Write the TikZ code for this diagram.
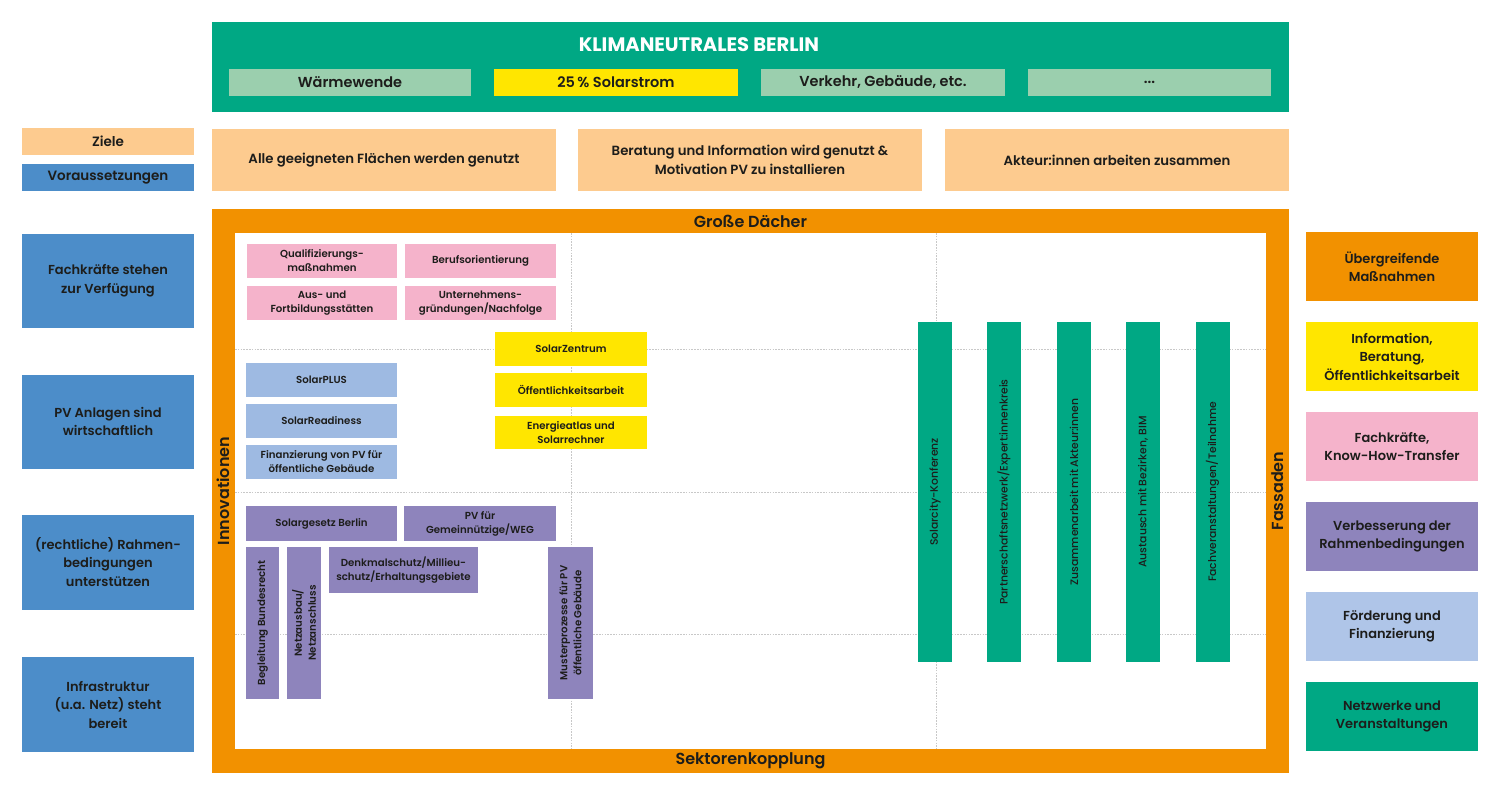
\documentclass[tikz,border=0pt]{standalone}
\usepackage{fontspec}
\setmainfont{Poppins}[UprightFont={* SemiBold},BoldFont={* Bold}]
\newfontfamily\lightfont{Poppins}[UprightFont={* Medium}]
\definecolor{ink}{HTML}{1D1D1B}
\definecolor{kgreen}{HTML}{00A884}
\definecolor{lgreen}{HTML}{9BCFAE}
\definecolor{kyellow}{HTML}{FFE600}
\definecolor{korange}{HTML}{F29100}
\definecolor{peach}{HTML}{FDCB8F}
\definecolor{kblue}{HTML}{4C8DC9}
\definecolor{kpink}{HTML}{F5B3CB}
\definecolor{lblue}{HTML}{9EBAE2}
\definecolor{rblue}{HTML}{AFC5E8}
\definecolor{kpurple}{HTML}{8E84BC}
\definecolor{gridc}{HTML}{C8C8C8}
\newcommand\myfs[2]{\fontsize{#1}{#2}\selectfont}
\begin{document}
\begin{tikzpicture}[x=1pt,y=-1pt,
  box/.style={inner sep=0pt, outer sep=0pt, align=center, text=ink},
  small/.style={box, font=\myfs{10.2}{14}},
  legend/.style={box, minimum width=172, font=\myfs{13}{18.5}},
  vbox/.style={box, fill=kgreen, rotate=90, minimum width=340, minimum height=34, font=\lightfont\myfs{10.8}{12}},
  gridline/.style={draw=gridc, line width=0.8pt, dash pattern=on 1.6pt off 1.2pt},
  frametext/.style={box, font=\myfs{16}{19}}]
\useasboundingbox (0,0) rectangle (1500,796);
\fill[white] (0,0) rectangle (1500,796);

% top
\node[box, fill=kgreen, minimum width=1077, minimum height=90] (klima) at (750.5,67) {};
\node[box, text=white, font=\bfseries\myfs{19.5}{22}] (title) at (699,45) {KLIMANEUTRALES BERLIN};
\node[box, fill=lgreen, minimum width=242, minimum height=27, font=\myfs{14.5}{17}] (w1) at (350,82.5) {Wärmewende};
\node[box, fill=kyellow, minimum width=244, minimum height=27, font=\myfs{14.5}{17}] (w2) at (616,82.5) {25\,\% Solarstrom};
\node[box, fill=lgreen, minimum width=244, minimum height=27, font=\myfs{14.5}{17}] (w3) at (883,82.5) {Verkehr, Gebäude, etc.};
\node[box, fill=lgreen, minimum width=243, minimum height=27, font=\myfs{14.5}{17}] (w4) at (1149.5,82.5) {...};

% Ziele / Voraussetzungen
\node[box, fill=peach, minimum width=172, minimum height=27, font=\myfs{13.5}{16}] (ziele) at (108,141.5) {Ziele};
\node[box, fill=kblue, minimum width=172, minimum height=27, font=\myfs{13.5}{16}] (vor) at (108,177.5) {Voraussetzungen};
\node[box, fill=peach, minimum width=344, minimum height=62, font=\myfs{13.3}{19}] (g1) at (384,160) {Alle geeigneten Flächen werden genutzt};
\node[box, fill=peach, minimum width=344, minimum height=62, font=\myfs{13.3}{19}] (g2) at (750,160) {Beratung und Information wird genutzt \&\\Motivation PV zu installieren};
\node[box, fill=peach, minimum width=344, minimum height=62, font=\myfs{13.3}{19}] (g3) at (1117,160) {Akteur:innen arbeiten zusammen};

% frame
\node[box, fill=korange, minimum width=1077, minimum height=564] (frame) at (750.5,491) {};
\node[box, fill=white, minimum width=1031, minimum height=516] (inner) at (750.5,491) {};
\node[frametext] (dach) at (750.5,221) {Große Dächer};
\node[frametext] (sektor) at (750.5,761) {Sektorenkopplung};
\node[frametext, rotate=90] (innov) at (223.5,491) {Innovationen};
\node[frametext, rotate=90] (fassade) at (1277.5,491) {Fassaden};

% grid
\coordinate (v1t) at (571,233); \coordinate (v1b) at (571,749);
\coordinate (v2t) at (936,233); \coordinate (v2b) at (936,749);
\coordinate (h1l) at (235,349); \coordinate (h1r) at (1266,349);
\coordinate (h2l) at (235,492); \coordinate (h2r) at (1266,492);
\coordinate (h3l) at (235,634); \coordinate (h3r) at (1266,634);
\draw[gridline] (v1t) -- (v1b);
\draw[gridline] (v2t) -- (v2b);
\draw[gridline] (h1l) -- (h1r);
\draw[gridline] (h2l) -- (h2r);
\draw[gridline] (h3l) -- (h3r);

% pink
\node[small, fill=kpink, minimum width=150, minimum height=34] (q1) at (322,261) {Qualifizierungs-\\maßnahmen};
\node[small, fill=kpink, minimum width=151, minimum height=34] (q2) at (480.5,261) {Berufsorientierung};
\node[small, fill=kpink, minimum width=150, minimum height=34] (q3) at (322,303) {Aus- und\\Fortbildungsstätten};
\node[small, fill=kpink, minimum width=151, minimum height=34] (q4) at (480.5,303) {Unternehmens-\\gründungen/Nachfolge};

% yellow
\node[small, fill=kyellow, minimum width=152, minimum height=34] (y1) at (571,349) {SolarZentrum};
\node[small, fill=kyellow, minimum width=152, minimum height=34] (y2) at (571,390) {Öffentlichkeitsarbeit};
\node[small, fill=kyellow, minimum width=152, minimum height=33] (y3) at (571,432.5) {Energieatlas und\\Solarrechner};

% light blue
\node[small, fill=lblue, minimum width=151, minimum height=34] (b1) at (321.5,380) {SolarPLUS};
\node[small, fill=lblue, minimum width=151, minimum height=34] (b2) at (321.5,421) {SolarReadiness};
\node[small, fill=lblue, minimum width=151, minimum height=34] (b3) at (321.5,462) {Finanzierung von PV für\\öffentliche Gebäude};

% purple
\node[small, fill=kpurple, minimum width=151, minimum height=35] (p1) at (321.5,523.5) {Solargesetz Berlin};
\node[small, fill=kpurple, minimum width=152, minimum height=35] (p2) at (480,523.5) {PV für\\Gemeinnützige/WEG};
\node[small, fill=kpurple, rotate=90, minimum width=152, minimum height=33] (p3) at (262.5,623) {Begleitung Bundesrecht};
\node[small, fill=kpurple, rotate=90, minimum width=152, minimum height=34] (p4) at (304,623) {Netzausbau/\\Netzanschluss};
\node[small, fill=kpurple, minimum width=149, minimum height=46] (p5) at (403.5,570) {Denkmalschutz/Millieu-\\schutz/Erhaltungsgebiete};
\node[small, fill=kpurple, rotate=90, minimum width=152, minimum height=45] (p6) at (570.5,623) {Musterprozesse für PV\\öffentliche Gebäude};

% green verticals
\node[vbox] (n1) at (935,492) {Solarcity-Konferenz};
\node[vbox] (n2) at (1004,492) {Partnerschaftsnetzwerk/Expert:innenkreis};
\node[vbox] (n3) at (1074,492) {Zusammenarbeit mit Akteur:innen};
\node[vbox] (n4) at (1143,492) {Austausch mit Bezirken, BIM};
\node[vbox] (n5) at (1212.5,492) {Fachveranstaltungen/Teilnahme};

% left column
\node[legend, fill=kblue, minimum height=94] (l1) at (108,280.5) {Fachkräfte stehen\\zur Verfügung};
\node[legend, fill=kblue, minimum height=94] (l2) at (108,421.5) {PV Anlagen sind\\wirtschaftlich};
\node[legend, fill=kblue, minimum height=95] (l3) at (108,562) {(rechtliche) Rahmen-\\bedingungen\\unterstützen};
\node[legend, fill=kblue, minimum height=95] (l4) at (108,704.5) {Infrastruktur\\(u.a. Netz) steht\\bereit};

% right column
\node[legend, fill=korange, minimum height=69] (r1) at (1392,266.5) {Übergreifende\\Maßnahmen};
\node[legend, fill=kyellow, minimum height=69] (r2) at (1392,356.5) {Information,\\Beratung,\\Öffentlichkeitsarbeit};
\node[legend, fill=kpink, minimum height=69] (r3) at (1392,446.5) {Fachkräfte,\\Know-How-Transfer};
\node[legend, fill=kpurple, minimum height=69] (r4) at (1392,536.5) {Verbesserung der\\Rahmenbedingungen};
\node[legend, fill=rblue, minimum height=69] (r5) at (1392,626.5) {Förderung und\\Finanzierung};
\node[legend, fill=kgreen, minimum height=69] (r6) at (1392,716.5) {Netzwerke und\\Veranstaltungen};
\end{tikzpicture}
\end{document}
